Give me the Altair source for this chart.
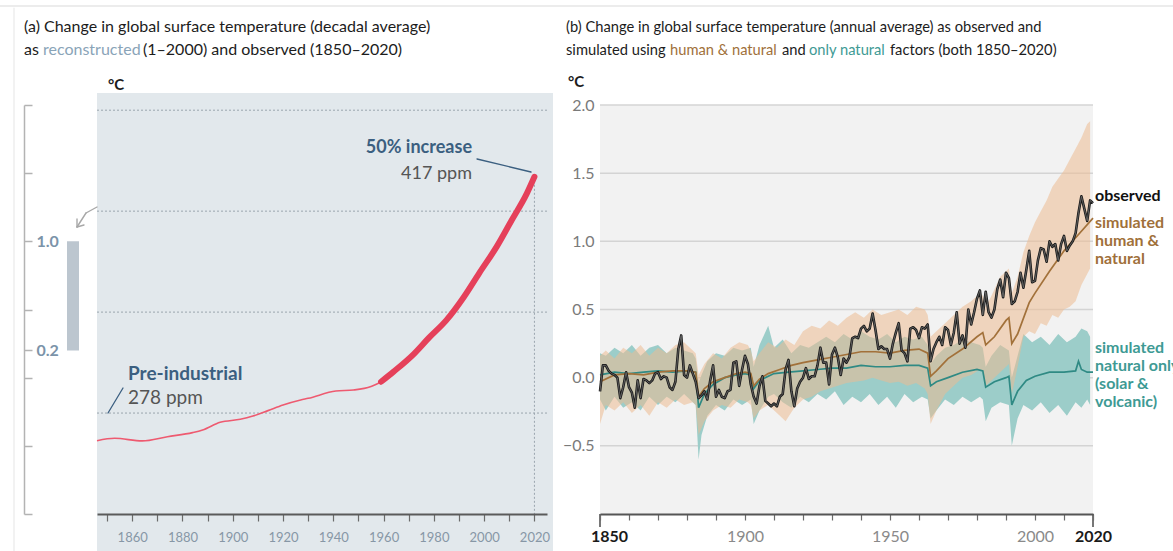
import altair as alt
import pandas as pd

# ---------------- panel (a): concentration curve, ppm ----------------
a_years_early = [1846, 1853, 1864, 1874, 1884, 1888, 1895, 1903, 1908, 1914, 1920, 1927,
                 1930, 1941, 1948, 1955, 1959]
a_ppm_early = [286.3, 287.5, 286.2, 288.3, 290.3, 291.6, 295.4, 296.9, 298.5, 301.2, 304.0,
               306.5, 307.3, 310.9, 311.4, 313.1, 315.5]
a_years_recent = [1959, 1964, 1972, 1978, 1985, 1992, 1998, 2005, 2011, 2017, 2020]
a_ppm_recent = [315.5, 320.5, 329.2, 337.2, 346.0, 357.6, 369.2, 382.4, 395.6, 408.8, 417.0]
a_grid_ppm = [300, 350, 400, 450]
a_tick_years = list(range(1850, 2021, 10))
a_x_domain = [1846, 2025]
a_y_domain = [250, 460]

# left bracket scale (°C)
c_ticks = [-1.0, -0.5, 0.0, 0.2, 0.5, 1.0, 1.5, 2.0]
c_bar_lo = [0.2]
c_bar_hi = [1.0]

# ---------------- panel (b): annual temperature change, °C ----------------
b_years = list(range(1850, 2021))
b_observed = [
    -0.10, 0.09, 0.09, 0.05, 0.03, 0.02, 0.00, -0.15, -0.07, 0.04,
    -0.07, -0.11, -0.22, -0.02, -0.15, -0.01, -0.02, -0.04, -0.02, 0.03,
    0.04, -0.01, 0.01, 0.00, -0.07, -0.09, -0.03, 0.21, 0.31, 0.02,
    0.00, 0.09, 0.03, -0.03, -0.15, -0.13, -0.10, -0.16, -0.02, 0.09,
    -0.14, -0.09, -0.14, -0.15, -0.10, -0.09, 0.11, 0.12, -0.06, 0.06,
    0.16, 0.10, -0.05, -0.14, -0.19, -0.06, 0.01, -0.17, -0.19, -0.21,
    -0.19, -0.21, -0.14, -0.12, 0.06, 0.13, -0.10, -0.21, -0.08, -0.03,
    0.00, 0.07, -0.01, 0.01, 0.01, 0.09, 0.22, 0.11, 0.11, -0.05,
    0.17, 0.22, 0.15, 0.02, 0.14, 0.11, 0.15, 0.29, 0.30, 0.29,
    0.36, 0.38, 0.34, 0.36, 0.47, 0.35, 0.21, 0.23, 0.21, 0.21,
    0.14, 0.25, 0.33, 0.40, 0.20, 0.18, 0.12, 0.36, 0.37, 0.35,
    0.29, 0.37, 0.36, 0.39, 0.12, 0.21, 0.26, 0.30, 0.24, 0.37,
    0.35, 0.24, 0.33, 0.48, 0.25, 0.31, 0.22, 0.50, 0.39, 0.48,
    0.58, 0.64, 0.46, 0.63, 0.48, 0.44, 0.50, 0.65, 0.72, 0.59,
    0.77, 0.73, 0.54, 0.56, 0.63, 0.77, 0.66, 0.79, 0.93, 0.70,
    0.71, 0.86, 0.95, 0.94, 0.85, 1.00, 0.96, 0.98, 0.86, 0.98,
    1.04, 0.93, 0.97, 1.00, 1.06, 1.21, 1.33, 1.24, 1.15, 1.30,
    1.28,
]

hn_years = [1850, 1855, 1860, 1865, 1870, 1875, 1880, 1883, 1884, 1886, 1889, 1893, 1897,
            1900, 1902, 1903, 1905, 1908, 1912, 1916, 1920, 1925, 1930, 1935, 1940, 1945,
            1950, 1955, 1960, 1963, 1964, 1966, 1970, 1975, 1980, 1982, 1983, 1986, 1990,
            1991, 1992, 1994, 1998, 2000, 2005, 2010, 2015, 2020]
hn_mean = [-0.03, 0.02, 0.03, 0.02, 0.04, 0.05, 0.05, 0.04, -0.14, -0.08, -0.03, 0.00, 0.03,
           0.04, 0.03, -0.06, -0.01, 0.03, 0.06, 0.09, 0.11, 0.13, 0.15, 0.17, 0.19, 0.19,
           0.18, 0.20, 0.21, 0.18, 0.01, 0.05, 0.14, 0.21, 0.30, 0.33, 0.24, 0.30, 0.42,
           0.44, 0.25, 0.32, 0.55, 0.62, 0.78, 0.93, 1.05, 1.17]

nat_years = [1850, 1855, 1860, 1865, 1870, 1875, 1880, 1883, 1884, 1886, 1889, 1893, 1897,
             1900, 1902, 1903, 1905, 1910, 1915, 1920, 1925, 1930, 1935, 1940, 1945, 1950,
             1955, 1960, 1963, 1964, 1966, 1970, 1975, 1980, 1982, 1983, 1986, 1990, 1991,
             1992, 1994, 1997, 2000, 2005, 2010, 2014, 2015, 2016, 2018, 2020]
nat_mean = [0.02, 0.04, 0.03, 0.04, 0.05, 0.04, 0.05, 0.04, -0.22, -0.12, -0.05, 0.00, 0.02,
            0.03, 0.02, -0.08, -0.02, 0.03, 0.04, 0.05, 0.06, 0.07, 0.07, 0.09, 0.08, 0.08,
            0.09, 0.09, 0.07, -0.06, -0.03, 0.00, 0.04, 0.06, 0.05, -0.07, -0.03, 0.00, 0.01,
            -0.20, -0.10, -0.02, 0.01, 0.04, 0.04, 0.05, 0.12, 0.06, 0.04, 0.04]

hn_band_years = [1850, 1852, 1855, 1858, 1861, 1864, 1867, 1870, 1873, 1876, 1879, 1882, 1883,
                 1884, 1886, 1889, 1892, 1895, 1898, 1901, 1902, 1903, 1905, 1908, 1911, 1914,
                 1917, 1920, 1923, 1926, 1929, 1932, 1935, 1938, 1941, 1944, 1947, 1950, 1953,
                 1956, 1959, 1962, 1963, 1964, 1966, 1969, 1972, 1975, 1978, 1981, 1982, 1983,
                 1985, 1988, 1991, 1992, 1994, 1996, 1998, 2000, 2002, 2004, 2006, 2008, 2010,
                 2012, 2014, 2016, 2018, 2019]
hn_lo = [-0.34, -0.20, -0.24, -0.18, -0.26, -0.20, -0.28, -0.18, -0.22, -0.16, -0.20, -0.18,
         -0.20, -0.42, -0.32, -0.24, -0.20, -0.22, -0.16, -0.18, -0.20, -0.30, -0.24, -0.20,
         -0.26, -0.32, -0.22, -0.16, -0.14, -0.10, -0.08, -0.06, -0.04, -0.03, -0.02, 0.00,
         -0.02, -0.04, -0.03, -0.06, -0.04, -0.08, -0.12, -0.34, -0.24, -0.12, -0.06, 0.00,
         0.02, 0.06, 0.04, -0.06, -0.02, 0.04, 0.10, -0.12, 0.08, 0.30, 0.34, 0.32, 0.40,
         0.38, 0.46, 0.44, 0.50, 0.52, 0.56, 0.68, 0.76, 0.80]
hn_hi = [0.16, 0.20, 0.14, 0.22, 0.18, 0.24, 0.16, 0.22, 0.18, 0.24, 0.26, 0.20, 0.18, 0.02,
         0.10, 0.18, 0.14, 0.22, 0.26, 0.24, 0.20, 0.12, 0.18, 0.26, 0.22, 0.28, 0.24, 0.34,
         0.38, 0.36, 0.42, 0.38, 0.44, 0.48, 0.44, 0.50, 0.46, 0.48, 0.50, 0.46, 0.52, 0.50,
         0.46, 0.30, 0.34, 0.40, 0.46, 0.52, 0.56, 0.62, 0.60, 0.52, 0.60, 0.74, 0.80, 0.62,
         0.74, 0.92, 1.04, 1.14, 1.22, 1.30, 1.40, 1.46, 1.52, 1.60, 1.68, 1.76, 1.86, 1.88]

nat_band_years = [1850, 1852, 1855, 1858, 1861, 1864, 1867, 1870, 1873, 1876, 1879, 1882,
                  1883, 1884, 1885, 1887, 1890, 1893, 1896, 1899, 1902, 1903, 1905, 1908,
                  1910, 1913, 1916, 1919, 1922, 1925, 1928, 1931, 1934, 1937, 1940, 1943,
                  1946, 1949, 1952, 1955, 1958, 1961, 1963, 1964, 1966, 1969, 1972, 1975,
                  1978, 1981, 1982, 1983, 1985, 1988, 1991, 1992, 1994, 1996, 1999, 2002,
                  2005, 2008, 2011, 2014, 2016, 2018, 2019]
nat_lo = [-0.16, -0.24, -0.14, -0.22, -0.18, -0.24, -0.14, -0.20, -0.14, -0.18, -0.12, -0.18,
          -0.20, -0.60, -0.42, -0.28, -0.20, -0.24, -0.16, -0.20, -0.16, -0.34, -0.24, -0.14,
          -0.12, -0.18, -0.22, -0.14, -0.18, -0.12, -0.16, -0.10, -0.20, -0.14, -0.18, -0.12,
          -0.20, -0.14, -0.22, -0.12, -0.18, -0.14, -0.16, -0.30, -0.24, -0.16, -0.20, -0.14,
          -0.18, -0.14, -0.16, -0.32, -0.22, -0.18, -0.20, -0.50, -0.30, -0.20, -0.24, -0.18,
          -0.26, -0.20, -0.28, -0.18, -0.22, -0.16, -0.20]
nat_hi = [0.18, 0.16, 0.22, 0.18, 0.24, 0.16, 0.22, 0.24, 0.18, 0.22, 0.20, 0.18, 0.14, -0.04,
          0.02, 0.12, 0.18, 0.16, 0.22, 0.20, 0.22, 0.08, 0.24, 0.38, 0.22, 0.28, 0.18, 0.24,
          0.22, 0.26, 0.30, 0.26, 0.32, 0.28, 0.34, 0.30, 0.28, 0.32, 0.26, 0.30, 0.28, 0.30,
          0.24, 0.10, 0.16, 0.22, 0.24, 0.28, 0.26, 0.24, 0.22, 0.08, 0.16, 0.24, 0.20, 0.00,
          0.16, 0.32, 0.26, 0.30, 0.24, 0.32, 0.26, 0.30, 0.36, 0.34, 0.30]

b_grid = [-0.5, 0.0, 0.5, 1.0, 1.5, 2.0]
b_tick_years = list(range(1850, 2021, 10))
b_x_domain = [1850, 2020]
b_y_domain = [-1.0, 2.0]

# ---------------- styling ----------------
W, H = 1173, 551
FONT = "Lato"
BLUE_GREY = "#3b5f80"
BROWN = "#a0703a"
TEAL = "#3e9a94"
INK = "#1c1c1c"

ONE = pd.DataFrame({"k": [0]})


def txt(s, x, y, size=15, color=INK, weight="normal", align="left"):
    return alt.Chart(ONE).mark_text(
        align=align, baseline="alphabetic", font=FONT, fontSize=size,
        fontWeight=weight, color=color,
    ).encode(x=alt.value(x), y=alt.value(y), text=alt.value(s))


def seg(x1, y1, x2, y2, color, width=1.2):
    return alt.Chart(ONE).mark_rule(color=color, strokeWidth=width, strokeCap="round").encode(
        x=alt.value(x1), y=alt.value(y1), x2=alt.value(x2), y2=alt.value(y2)
    )


# scales placed side by side on one canvas
XA = alt.Scale(domain=a_x_domain, range=[97, 547], nice=False, zero=False)
YA = alt.Scale(domain=a_y_domain, range=[514, 90], nice=False, zero=False)
XB = alt.Scale(domain=b_x_domain, range=[600, 1093], nice=False, zero=False)
YB = alt.Scale(domain=b_y_domain, range=[514, 105], nice=False, zero=False)
YC = alt.Scale(domain=b_y_domain, range=[514, 105], nice=False, zero=False)

AXA = alt.Axis(
    orient="bottom", offset=-37, values=a_tick_years, format="d",
    labelExpr="datum.value % 20 == 0 ? datum.label : ''",
    tickSize=7, tickColor="#6b6b6b", tickWidth=1.2,
    domainColor="#5a5a5a", domainWidth=2,
    labelColor="#8797a6", labelFontSize=13, labelFont=FONT, labelPadding=10,
    labelFlush=False, labelOverlap=False, grid=False, title=None, zindex=2,
)
ENDS = "datum.value == 1850 || datum.value == 2020"
AXB = alt.Axis(
    orient="bottom", offset=-37, values=b_tick_years, format="d",
    labelExpr="(datum.value % 50 == 0 || datum.value == 2020) ? datum.label : ''",
    tickSize=6, tickColor="#6b6b6b", tickWidth=1.2,
    domainColor="#555555", domainWidth=2,
    labelColor={"condition": {"test": ENDS, "value": "#1a1a1a"}, "value": "#8a8a8a"},
    labelFontWeight={"condition": {"test": ENDS, "value": "bold"}, "value": "normal"},
    labelOffset={"condition": {"test": "datum.value == 1850", "value": 9}, "value": 0},
    labelFontSize=16, labelFont=FONT, labelPadding=8,
    labelFlush=False, labelOverlap=False, grid=False, title=None, zindex=2,
)
AYB = alt.Axis(
    orient="left", offset=-600, values=[-0.5, 0.0, 0.5, 1.0, 1.5, 2.0], format=".1f",
    domain=False, ticks=False, grid=False, labelColor="#7a7a7a", labelFontSize=16,
    labelFont=FONT, labelPadding=6, title=None, zindex=2,
)
AYC = alt.Axis(
    orient="right", offset=24 - W, values=c_ticks, format=".1f",
    labelExpr="(datum.value == 1 || datum.value == 0.2) ? datum.label : ''",
    domainColor="#b3b3b3", domainWidth=1.5, tickColor="#b3b3b3", tickWidth=1.5,
    tickSize=8, labelColor="#7b93a9", labelFontSize=16, labelFont=FONT,
    labelFontWeight="bold", labelPadding=4, grid=False, title=None, zindex=2,
)

# ---------------- panel (a) ----------------
df_a_early = pd.DataFrame({"ya": a_years_early, "ppm": a_ppm_early})
df_a_recent = pd.DataFrame({"ya": a_years_recent, "ppm": a_ppm_recent})
df_a_grid = pd.DataFrame({"ppm": a_grid_ppm, "ya": [a_x_domain[0]] * len(a_grid_ppm),
                          "ya2": [a_x_domain[1]] * len(a_grid_ppm)})
df_a_end = pd.DataFrame({"ya": [a_years_recent[-1]], "ppm": [a_ppm_recent[-1]],
                         "ppm2": [a_y_domain[0]]})

a_bg = alt.Chart(ONE).mark_rect(color="#e2e8ec").encode(
    x=alt.value(97), x2=alt.value(553), y=alt.value(93), y2=alt.value(H))
a_grid = alt.Chart(df_a_grid).mark_rule(color="#9aa5ae", strokeWidth=1, strokeDash=[2, 2]).encode(
    x=alt.X("ya:Q", scale=XA, axis=AXA), x2="ya2:Q",
    y=alt.Y("ppm:Q", scale=YA, axis=None))
a_vline = alt.Chart(df_a_end).mark_rule(color="#9aa5ae", strokeWidth=1, strokeDash=[2, 2]).encode(
    x=alt.X("ya:Q", scale=XA, axis=AXA),
    y=alt.Y("ppm:Q", scale=YA, axis=None), y2="ppm2:Q")
a_thin = alt.Chart(df_a_early).mark_line(color="#ee5a70", strokeWidth=1.6, interpolate="monotone").encode(
    x=alt.X("ya:Q", scale=XA, axis=AXA), y=alt.Y("ppm:Q", scale=YA, axis=None))
a_thick = alt.Chart(df_a_recent).mark_line(color="#e5405a", strokeWidth=6, strokeCap="round",
                                           interpolate="monotone").encode(
    x=alt.X("ya:Q", scale=XA, axis=AXA), y=alt.Y("ppm:Q", scale=YA, axis=None))

panel_a = alt.layer(a_bg, a_grid, a_vline, a_thin, a_thick)

# ---------------- left bracket ----------------
df_c = pd.DataFrame({"lo": c_bar_lo, "hi": c_bar_hi})
bracket = alt.Chart(df_c).mark_rect(color="#bcc6cf").encode(
    x=alt.value(67), x2=alt.value(79),
    y=alt.Y("lo:Q", scale=YC, axis=AYC), y2="hi:Q")

# ---------------- panel (b) ----------------
df_b_bg = pd.DataFrame({"yb": [b_x_domain[0]], "yb2": [b_x_domain[1]],
                        "t": [b_y_domain[0]], "t2": [b_y_domain[1]]})
df_b_grid = pd.DataFrame({"t": b_grid, "yb": [b_x_domain[0]] * len(b_grid),
                          "yb2": [b_x_domain[1]] * len(b_grid)})
df_b_ends = pd.DataFrame({"yb": b_x_domain})
df_obs = pd.DataFrame({"yb": b_years, "t": b_observed})
df_hn = pd.DataFrame({"yb": hn_years, "t": hn_mean})
df_nat = pd.DataFrame({"yb": nat_years, "t": nat_mean})
df_hn_band = pd.DataFrame({"yb": hn_band_years, "t": hn_lo, "t2": hn_hi})
df_nat_band = pd.DataFrame({"yb": nat_band_years, "t": nat_lo, "t2": nat_hi})


def bx(f="yb"):
    return alt.X(f"{f}:Q", scale=XB, axis=AXB)


def by(f="t"):
    return alt.Y(f"{f}:Q", scale=YB, axis=AYB)


b_bg = alt.Chart(df_b_bg).mark_rect(color="#f2f2f2").encode(x=bx(), x2="yb2:Q", y=by(), y2="t2:Q")
b_gridl = alt.Chart(df_b_grid).mark_rule(color="#d4d4d4", strokeWidth=1.5).encode(
    x=bx(), x2="yb2:Q", y=by())
b_endticks = alt.Chart(df_b_ends).mark_rule(color="#555555", strokeWidth=1.6).encode(
    x=bx(), y=alt.value(514), y2=alt.value(527))
b_nat_band = alt.Chart(df_nat_band).mark_area(color="#9ccdc9").encode(x=bx(), y=by(), y2="t2:Q")
b_hn_band = alt.Chart(df_hn_band).mark_area(color="#edbc92", opacity=0.55).encode(
    x=bx(), y=by(), y2="t2:Q")
b_nat_line = alt.Chart(df_nat).mark_line(color="#2f8a84", strokeWidth=1.7).encode(x=bx(), y=by())
b_hn_line = alt.Chart(df_hn).mark_line(color="#a2713a", strokeWidth=1.7).encode(x=bx(), y=by())
b_obs_outer = alt.Chart(df_obs).mark_line(color="#1a1a1a", strokeWidth=2.6, strokeJoin="round").encode(
    x=bx(), y=by())
b_obs_inner = alt.Chart(df_obs).mark_line(color="#6e6e6e", strokeWidth=0.8, strokeJoin="round").encode(
    x=bx(), y=by())

panel_b = alt.layer(b_bg, b_gridl, b_endticks, b_nat_band, b_hn_band, b_nat_line, b_hn_line,
                    b_obs_outer, b_obs_inner)

# ---------------- text and annotation ----------------
notes = [
    seg(0, 6, W, 6, "#e6e6e6", 1.5),
    seg(14, 8, 14, H, "#e9e9e9", 1.2),
    # panel (a) titles
    txt("(a) Change in global surface temperature (decadal average)", 24, 32, size=16),
    txt("as", 24, 55, size=16),
    txt("reconstructed", 43, 55, size=16, color="#8aa4b8"),
    txt("(1–2000) and observed (1850–2020)", 143, 55, size=16),
    txt("°C", 108, 90, size=15, weight="bold"),
    # panel (b) titles
    txt("(b) Change in global surface temperature (annual average) as observed and", 566, 32, size=14.7),
    txt("simulated using", 566, 55, size=14.7),
    txt("human & natural", 670, 55, size=14.7, color=BROWN),
    txt("and", 782, 55, size=14.7),
    txt("only natural", 809, 55, size=14.7, color=TEAL),
    txt("factors (both 1850–2020)", 890, 55, size=14.7),
    txt("°C", 568, 87, size=15, weight="bold"),
    # panel (a) annotations
    txt("Pre-industrial", 128, 380, size=19, weight="bold", color=BLUE_GREY),
    txt("278 ppm", 128, 404, size=19, color="#555555"),
    seg(108, 413, 123, 388, BLUE_GREY, 1.3),
    txt("50% increase", 472, 153, size=18, weight="bold", color=BLUE_GREY, align="right"),
    txt("417 ppm", 472, 179, size=18, color="#555555", align="right"),
    seg(477, 159, 531, 172, BLUE_GREY, 1.3),
    # arrow from panel (a) to the bracket
    seg(97, 207, 86, 213, "#a8a8a8", 1.4),
    seg(86, 213, 77, 227, "#a8a8a8", 1.4),
    seg(77, 227, 77, 219, "#a8a8a8", 1.4),
    seg(77, 227, 84, 225, "#a8a8a8", 1.4),
    # panel (b) series labels
    txt("observed", 1095, 201, size=16, weight="bold", color="#111111"),
    txt("simulated", 1095, 228, size=16, weight="bold", color=BROWN),
    txt("human &", 1095, 246, size=16, weight="bold", color=BROWN),
    txt("natural", 1095, 264, size=16, weight="bold", color=BROWN),
    txt("simulated", 1095, 353, size=16, weight="bold", color=TEAL),
    txt("natural only", 1095, 371, size=16, weight="bold", color=TEAL),
    txt("(solar &", 1095, 389, size=16, weight="bold", color=TEAL),
    txt("volcanic)", 1095, 407, size=16, weight="bold", color=TEAL),
]

chart = alt.layer(panel_a, bracket, panel_b, *notes).resolve_scale(
    x="independent", y="independent"
).properties(
    width=W, height=H, padding=0, autosize=alt.AutoSizeParams(type="none"), background="white"
).configure_view(stroke=None)

chart.save("out.html", embed_options={"renderer": "svg", "actions": False})
